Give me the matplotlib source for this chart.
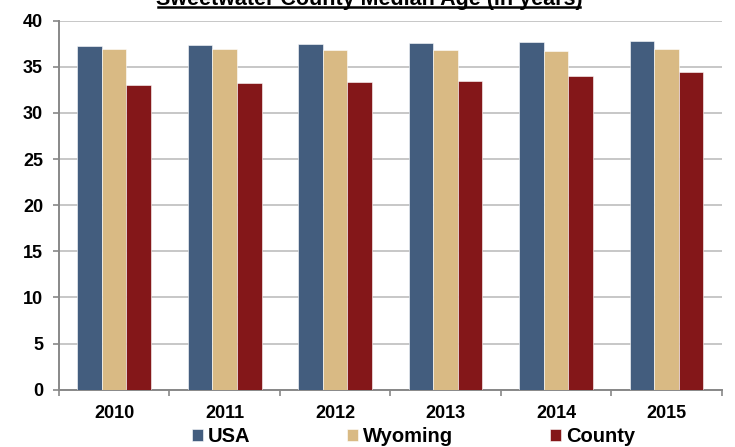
import numpy as np
import matplotlib.pyplot as plt
from matplotlib.lines import Line2D

plt.rcParams['font.family'] = ['Liberation Sans', 'DejaVu Sans']
plt.rcParams['font.weight'] = 'bold'

years = ['2010', '2011', '2012', '2013', '2014', '2015']
usa = [37.2, 37.3, 37.5, 37.6, 37.7, 37.8]
wyoming = [36.9, 36.9, 36.8, 36.8, 36.7, 36.9]
county = [33.0, 33.2, 33.3, 33.5, 34.0, 34.4]

series = [('USA', usa, '#435d7e'),
          ('Wyoming', wyoming, '#d9ba84'),
          ('County', county, '#841719')]

fig = plt.figure(figsize=(7.35, 4.47), dpi=100)
ax = fig.add_axes([0.080, 0.128, 0.902, 0.826])

x = np.arange(len(years))
w = 0.223
for i, (name, vals, col) in enumerate(series):
    ax.bar(x + (i - 1) * w, vals, w, color=col, label=name,
           edgecolor='#ffffff', linewidth=0.4, zorder=3)

ax.set_xlim(-0.5, len(years) - 0.5)
ax.set_ylim(0, 40)
ax.set_yticks(np.arange(0, 41, 5))
ax.yaxis.grid(True, color='#bdbdbd', linewidth=1.2, zorder=0)
ax.set_axisbelow(True)

ax.set_xticks(x)
ax.set_xticklabels(years, fontsize=13, fontweight='bold')
ax.tick_params(axis='x', length=0, pad=11)
ax.set_xticks(np.arange(-0.5, len(years)), minor=True)
ax.tick_params(axis='x', which='minor', length=4, width=1.2,
               color='#888888', direction='out')
ax.tick_params(axis='y', length=4.3, width=1.2, color='#888888',
               labelsize=13, pad=7)
for lab in ax.get_yticklabels():
    lab.set_fontweight('bold')

for s in ['top', 'right']:
    ax.spines[s].set_visible(False)
for s in ['left', 'bottom']:
    ax.spines[s].set_color('#888888')
    ax.spines[s].set_linewidth(1.4)

title = 'Sweetwater County Median Age (in years)'
fig.text(0.502, 0.989, title, ha='center', va='baseline',
         fontsize=15.5, fontweight='bold')
fig.add_artist(Line2D([0.215, 0.789], [0.984, 0.984], color='black',
                      linewidth=1.8, transform=fig.transFigure))

fig.legend(loc='center', bbox_to_anchor=(0.5626, 0.0224), ncol=3,
           frameon=False, prop={'size': 14.5, 'weight': 'bold'},
           handlelength=0.55, handleheight=0.55, handletextpad=0.25,
           columnspacing=4.8)

fig.savefig('out.png', dpi=100)
